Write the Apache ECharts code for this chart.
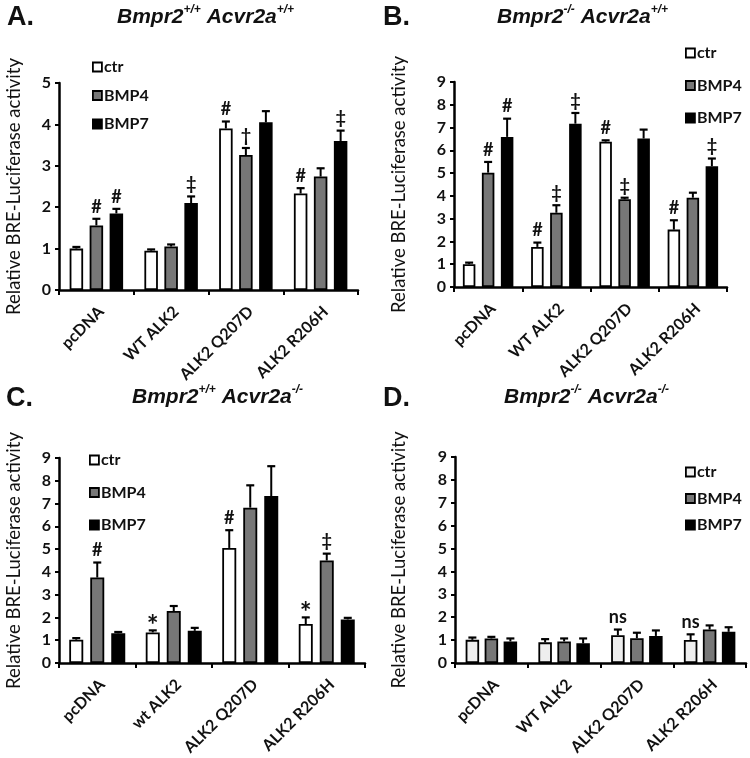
<!DOCTYPE html>
<html><head><meta charset="utf-8">
<script src="https://cdn.jsdelivr.net/npm/echarts@6/dist/echarts.min.js"></script>
<style>html,body{margin:0;padding:0;background:#fff}#c{width:750px;height:758px}</style>
</head><body><div id="c"></div>
<script>
// ---------- DATA ----------
const categoriesABD = ['pcDNA', 'WT ALK2', 'ALK2 Q207D', 'ALK2 R206H'];
const categoriesC = ['pcDNA', 'wt ALK2', 'ALK2 Q207D', 'ALK2 R206H'];
const seriesNames = ['ctr', 'BMP4', 'BMP7'];
const yTicksA = [0, 1, 2, 3, 4, 5];
const yTicksBCD = [0, 1, 2, 3, 4, 5, 6, 7, 8, 9];

// Panel A: Bmpr2+/+ Acvr2a+/+
const ctrA = [1.0, 0.95, 3.9, 2.33];
const bmp4A = [1.56, 1.05, 3.26, 2.74];
const bmp7A = [1.85, 2.1, 4.05, 3.6];
const errCtrA = [0.04, 0.03, 0.17, 0.13];
const errBmp4A = [0.16, 0.05, 0.17, 0.2];
const errBmp7A = [0.11, 0.16, 0.27, 0.25];
const sigCtrA = ['', '', '#', '#'];
const sigBmp4A = ['#', '', '\u2020', ''];
const sigBmp7A = ['#', '\u2021', '', '\u2021'];

// Panel B: Bmpr2-/- Acvr2a+/+
const ctrB = [1.0, 1.76, 6.38, 2.52];
const bmp4B = [5.02, 3.26, 3.85, 3.92];
const bmp7B = [6.59, 7.17, 6.52, 5.3];
const errCtrB = [0.07, 0.19, 0.06, 0.41];
const errBmp4B = [0.47, 0.33, 0.07, 0.22];
const errBmp7B = [0.8, 0.47, 0.39, 0.34];
const sigCtrB = ['', '#', '#', '#'];
const sigBmp4B = ['#', '\u2021', '\u2021', ''];
const sigBmp7B = ['#', '\u2021', '', '\u2021'];

// Panel C: Bmpr2+/+ Acvr2a-/-
const ctrC = [1.02, 1.34, 5.05, 1.71];
const bmp4C = [3.75, 2.28, 6.82, 4.5];
const bmp7C = [1.3, 1.41, 7.33, 1.91];
const errCtrC = [0.07, 0.09, 0.78, 0.29];
const errBmp4C = [0.66, 0.22, 0.98, 0.3];
const errBmp7C = [0.06, 0.13, 1.31, 0.07];
const sigCtrC = ['', '*', '#', '*'];
const sigBmp4C = ['#', '', '', '\u2021'];
const sigBmp7C = ['', '', '', ''];

// Panel D: Bmpr2-/- Acvr2a-/-
const ctrD = [1.01, 0.9, 1.21, 1.0];
const bmp4D = [1.07, 0.94, 1.08, 1.46];
const bmp7D = [0.94, 0.86, 1.18, 1.36];
const errCtrD = [0.1, 0.14, 0.25, 0.25];
const errBmp4D = [0.07, 0.13, 0.24, 0.18];
const errBmp7D = [0.13, 0.21, 0.24, 0.2];
const sigCtrD = ['', '', 'ns', 'ns'];
const sigBmp4D = ['', '', '', ''];
const sigBmp7D = ['', '', '', ''];

// ---------- LAYOUT / STYLE ----------
const FONT = 'Lato';
const TFONT = 'Liberation Sans';
const panels = [
  { letter: 'A.', g1: 'Bmpr2', s1: '+/+', g2: ' Acvr2a', s2: '+/+', letterPos: [2, -1], titlePos: [112, -1],
    cats: categoriesABD, ticks: yTicksA,
    vals: [ctrA, bmp4A, bmp7A], errs: [errCtrA, errBmp4A, errBmp7A], sigs: [sigCtrA, sigBmp4A, sigBmp7A],
    grid: { left: 59, top: 83, width: 299, height: 207 }, nameGap: 35,
    barWidth: 13.5, pitch: 20, colors: ['#ffffff', '#777777', '#000000'],
    leg: { left: 87, top: 54, gap: 12.5 } },
  { letter: 'B.', g1: 'Bmpr2', s1: '-/-', g2: ' Acvr2a', s2: '+/+', letterPos: [378, -1], titlePos: [492, -1],
    cats: categoriesABD, ticks: yTicksBCD,
    vals: [ctrB, bmp4B, bmp7B], errs: [errCtrB, errBmp4B, errBmp7B], sigs: [sigCtrB, sigBmp4B, sigBmp7B],
    grid: { left: 454, top: 82, width: 273, height: 205 }, nameGap: 45,
    barWidth: 12.5, pitch: 19, colors: ['#ffffff', '#777777', '#000000'],
    leg: { left: 680, top: 40, gap: 16.5 } },
  { letter: 'C.', g1: 'Bmpr2', s1: '+/+', g2: ' Acvr2a', s2: '-/-', letterPos: [1, 380], titlePos: [127, 379],
    cats: categoriesC, ticks: yTicksBCD,
    vals: [ctrC, bmp4C, bmp7C], errs: [errCtrC, errBmp4C, errBmp7C], sigs: [sigCtrC, sigBmp4C, sigBmp7C],
    grid: { left: 59, top: 458, width: 306, height: 220 }, nameGap: 35,
    barWidth: 14, pitch: 21, colors: ['#ffffff', '#777777', '#000000'],
    leg: { left: 84, top: 447, gap: 16.5 } },
  { letter: 'D.', g1: 'Bmpr2', s1: '-/-', g2: ' Acvr2a', s2: '-/-', letterPos: [378, 380], titlePos: [499, 379],
    cats: categoriesABD, ticks: yTicksBCD,
    vals: [ctrD, bmp4D, bmp7D], errs: [errCtrD, errBmp4D, errBmp7D], sigs: [sigCtrD, sigBmp4D, sigBmp7D],
    grid: { left: 455, top: 457, width: 291, height: 216 }, nameGap: 46,
    barWidth: 13.5, pitch: 19, colors: ['#eeeeee', '#777777', '#000000'],
    leg: { left: 680, top: 459, gap: 10.5 } }
];

const option = { animation: false, backgroundColor: '#fff', title: [], grid: [], xAxis: [], yAxis: [], legend: [], series: [] };

panels.forEach((p, pi) => {
  option.title.push({ text: p.letter, left: p.letterPos[0], top: p.letterPos[1],
    textStyle: { fontFamily: TFONT, fontWeight: 'bold', fontSize: 27, color: '#111' } });
  option.title.push({ text: '{i|' + p.g1 + '}{s|' + p.s1 + '}{i|' + p.g2 + '}{s|' + p.s2 + '}',
    left: p.titlePos[0], top: p.titlePos[1],
    textStyle: { rich: {
      i: { fontFamily: TFONT, fontWeight: 'bold', fontStyle: 'italic', fontSize: 21, color: '#111', lineHeight: 26 },
      s: { fontFamily: TFONT, fontWeight: 'bold', fontStyle: 'italic', fontSize: 12, color: '#111', lineHeight: 26, verticalAlign: 'top', padding: [0, 0, 10, 0] }
    } } });
  option.grid.push(Object.assign({ containLabel: false }, p.grid));
  option.xAxis.push({ type: 'category', gridIndex: pi, data: p.cats,
    axisLine: { lineStyle: { color: '#000', width: 2.5 } },
    axisTick: { show: true, length: 5, lineStyle: { color: '#000', width: 2 } },
    axisLabel: { interval: 0, rotate: 45, margin: 24, padding: [0, -7, 0, 0], fontFamily: FONT, fontWeight: 'bold', fontSize: 16, color: '#111' } });
  const tmax = p.ticks[p.ticks.length - 1];
  option.yAxis.push({ type: 'value', gridIndex: pi, min: p.ticks[0], max: tmax, interval: 1,
    name: 'Relative BRE-Luciferase activity', nameLocation: 'middle', nameGap: p.nameGap,
    nameTextStyle: { fontFamily: FONT, fontSize: 18.5, color: '#111' },
    axisLine: { show: true, lineStyle: { color: '#000', width: 2.5 } },
    axisTick: { show: true, length: 4, lineStyle: { color: '#000', width: 2 } },
    splitLine: { show: false },
    axisLabel: { margin: 8, fontFamily: FONT, fontWeight: 'bold', fontSize: 16, color: '#111' } });
  option.legend.push({ orient: 'vertical', left: p.leg.left, top: p.leg.top, itemGap: p.leg.gap,
    itemWidth: 9, itemHeight: 9, icon: 'rect', selectedMode: false,
    textStyle: { fontFamily: FONT, fontWeight: 'bold', fontSize: 16, color: '#111', padding: [0, 0, 0, -3] },
    data: seriesNames.map((n, i) => ({ name: n, itemStyle: { color: p.colors[i], borderColor: '#000', borderWidth: 1.8 } })) });
  const gap = ((p.pitch - p.barWidth) / p.barWidth * 100).toFixed(1) + '%';
  seriesNames.forEach((n, si) => {
    option.series.push({ type: 'bar', name: n, xAxisIndex: pi, yAxisIndex: pi, data: p.vals[si],
      barWidth: p.barWidth, barGap: gap,
      itemStyle: { color: p.colors[si], borderColor: '#000', borderWidth: 1.8 } });
  });
  const ebData = [];
  for (let s = 0; s < 3; s++) for (let c = 0; c < p.cats.length; c++) ebData.push([c, p.vals[s][c], p.errs[s][c], s]);
  option.series.push({ type: 'custom', xAxisIndex: pi, yAxisIndex: pi, z: 5, data: ebData,
    encode: { x: 0, y: 1 }, silent: true,
    renderItem: function (params, api) {
      const c = api.value(0), v = api.value(1), e = api.value(2), s = api.value(3);
      const base = api.coord([c, v]);
      const top = api.coord([c, v + e]);
      const x = base[0] + (s - 1) * p.pitch;
      const children = [
        { type: 'line', shape: { x1: x, y1: base[1], x2: x, y2: top[1] }, style: { stroke: '#000', lineWidth: 2 } },
        { type: 'line', shape: { x1: x - 4, y1: top[1], x2: x + 4, y2: top[1] }, style: { stroke: '#000', lineWidth: 2.2 } }
      ];
      const sig = p.sigs[s][c];
      if (sig) {
        const big = sig === '*';
        children.push({ type: 'text', x: x, y: top[1] + (big ? 10 : -3),
          style: { text: sig, align: 'center', verticalAlign: 'bottom',
            font: 'bold ' + (big ? 28 : 18) + 'px ' + FONT, fill: '#111' } });
      }
      return { type: 'group', children: children };
    } });
});

const chart = echarts.init(document.getElementById('c'), null, { renderer: 'canvas' });
chart.setOption(option);
</script>
</body></html>
